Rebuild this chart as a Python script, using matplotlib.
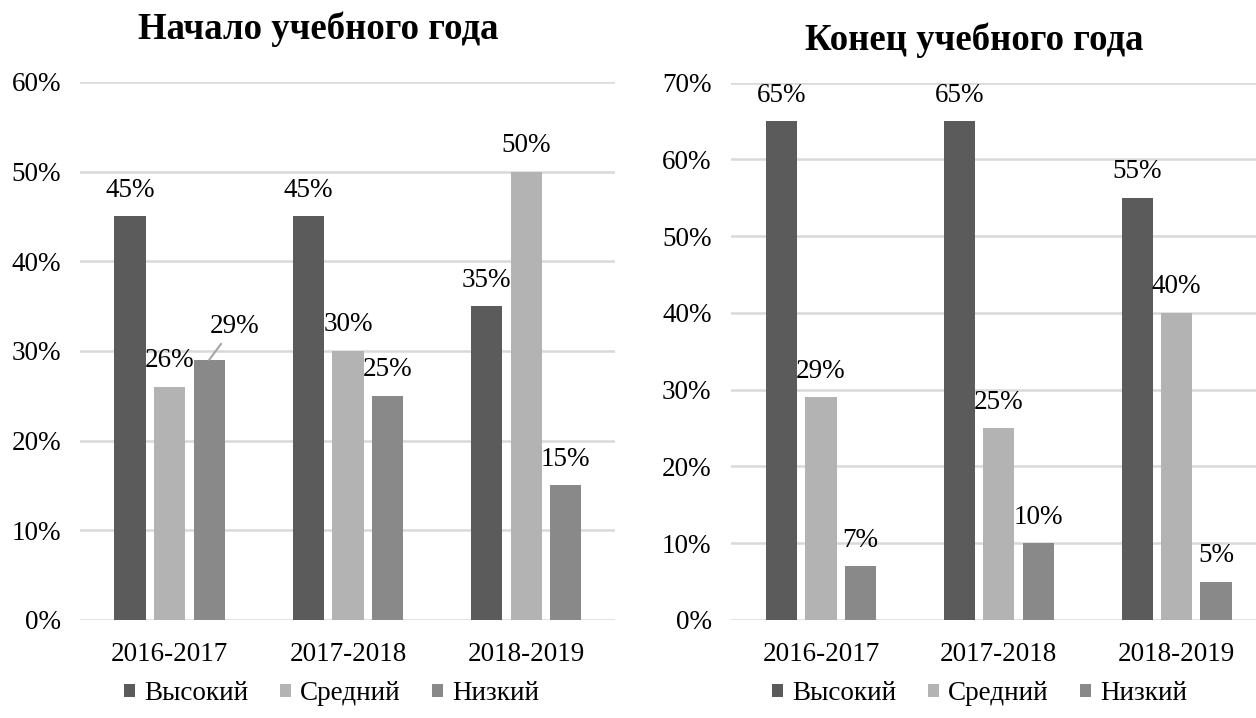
"""Two-panel grouped bar chart: knowledge levels at start and end of school year."""
import matplotlib
matplotlib.use("Agg")
import matplotlib.pyplot as plt
import numpy as np

years = ["2016-2017", "2017-2018", "2018-2019"]
levels = ["Высокий", "Средний", "Низкий"]

start_high = [45, 45, 35]
start_mid = [26, 30, 50]
start_low = [29, 25, 15]

end_high = [65, 65, 55]
end_mid = [29, 25, 40]
end_low = [7, 10, 5]

colors = ["#5b5b5b", "#b3b3b3", "#898989"]
FS = 19.5

plt.rcParams["font.family"] = ["Liberation Serif", "DejaVu Serif"]

fig = plt.figure(figsize=(12.56, 7.18), dpi=100)
ax1 = fig.add_axes([0.064, 0.1365, 0.426, 0.7495])
ax2 = fig.add_axes([0.582, 0.1365, 0.418, 0.7485])


def draw(ax, series, ymax, xlim, legend_x, special=None):
    x = np.arange(len(years))
    special = special or {}
    for i, (vals, col, name) in enumerate(zip(series, colors, levels)):
        pos = x + (i - 1) * 0.222
        ax.bar(pos, vals, width=0.175, color=col, label=name, zorder=3)
        for j, (px, v) in enumerate(zip(pos, vals)):
            if (i, j) in special:
                # label pulled aside with a leader line, as in the original
                ax.annotate(f"{v}%", xy=(px, v), xytext=special[(i, j)],
                            textcoords="offset points", ha="center",
                            va="baseline", fontsize=FS,
                            arrowprops=dict(arrowstyle="-", color="#a6a6a6",
                                            lw=1.5, shrinkA=2, shrinkB=0))
            else:
                ax.annotate(f"{v}%", xy=(px, v), xytext=(0, 14),
                            textcoords="offset points", ha="center",
                            va="baseline", fontsize=FS)
    ax.set_ylim(0, ymax)
    ax.set_xlim(*xlim)
    ax.set_yticks(np.arange(0, ymax + 1, 10))
    ax.set_yticklabels([f"{t}%" for t in range(0, ymax + 1, 10)])
    ax.set_xticks(x)
    ax.set_xticklabels(years)
    ax.tick_params(length=0, labelsize=FS)
    ax.tick_params(axis="x", pad=16)
    ax.tick_params(axis="y", pad=14)
    ax.grid(axis="y", color="#d9d9d9", lw=1.8, zorder=0)
    for s in ax.spines.values():
        s.set_visible(False)
    ax.legend(loc="center", bbox_to_anchor=(legend_x, -0.137), ncol=3,
              frameon=False, fontsize=FS, handlelength=0.4,
              handleheight=0.4, handletextpad=0.35, columnspacing=1.15)


draw(ax1, [start_high, start_mid, start_low], 60, (-0.5, 2.5), 0.47,
     special={(2, 0): (18, 19.5)})
draw(ax2, [end_high, end_mid, end_low], 70, (-0.506, 2.447), 0.474)

fig.text(318 / 1256, 1 - 29 / 718, "Начало учебного года", ha="center",
         va="center", fontsize=26.5, fontweight="bold")
fig.text(974 / 1256, 1 - 40 / 718, "Конец учебного года", ha="center",
         va="center", fontsize=26.5, fontweight="bold")

fig.savefig("out.png", dpi=100)
